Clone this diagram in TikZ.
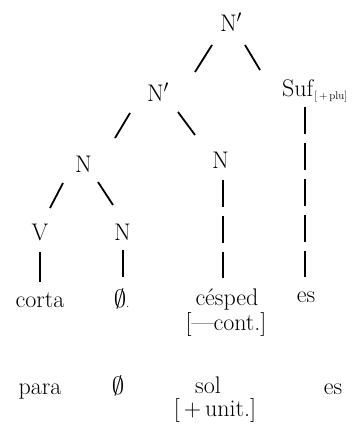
\documentclass[tikz,border=0pt]{standalone}
\begin{document}
\begin{tikzpicture}[x=1pt,y=-1pt,
  lbl/.style={anchor=base,inner sep=0pt,font=\fontsize{24}{28}\selectfont},
  branch/.style={line width=1.8pt},
  dashbranch/.style={line width=1.8pt,dash pattern=on 27pt off 9pt}]
\useasboundingbox (0,0) rectangle (360,441);

% tree labels
\node[lbl] (ntop) at (231,32) {N$'$};
\node[lbl] (nmid) at (158,102) {N$'$};
\node[lbl,anchor=base west] (suf) at (282,96)
  {Suf\kern1pt\raisebox{-3pt}{\fontsize{11}{12}\selectfont[\,+\,plu]}};
\node[lbl] (nl) at (83.5,172) {N};
\node[lbl] (nm) at (220.5,168) {N};
\node[lbl] (v) at (40,240) {V};
\node[lbl] (nz) at (122.5,240) {N};

% first word row
\node[lbl] (corta) at (40,307) {corta};
\node[lbl] (zero) at (120,307) {$\emptyset$\rlap{\fontsize{12}{14}\selectfont.}};
\node[lbl] (cesped) at (227,305) {césped};
\node[lbl] (cont) at (226,330) {[---cont.]};
\node[lbl] (es) at (306,302) {es};

% second word row
\node[lbl] (para) at (40,394) {para};
\node[lbl] (zerob) at (118,394) {$\emptyset$};
\node[lbl] (sol) at (208,393) {sol};
\node[lbl] (esb) at (333,394) {es};
\node[lbl] (unit) at (215,416) {[\,+\,unit.]};

% branches
\draw[branch] ([shift={(-19pt,-13pt)}]ntop.base) -- ([shift={(37pt,30pt)}]nmid.base);
\draw[branch] ([shift={(14pt,-13pt)}]ntop.base) -- ([shift={(-22pt,26pt)}]suf.base west);
\draw[branch] ([shift={(-28pt,-11pt)}]nmid.base) -- ([shift={(31.5pt,34pt)}]nl.base);
\draw[branch] ([shift={(20pt,-10pt)}]nmid.base) -- ([shift={(-25.5pt,33pt)}]nm.base);
\draw[branch] ([shift={(-20.5pt,-11pt)}]nl.base) -- ([shift={(10pt,32pt)}]v.base);
\draw[branch] ([shift={(14.5pt,-10pt)}]nl.base) -- ([shift={(-9.5pt,35pt)}]nz.base);
\draw[branch] ([shift={(0pt,-12pt)}]v.base) -- ([shift={(0pt,25pt)}]corta.base);
\draw[branch] ([shift={(0.5pt,-10pt)}]nz.base) -- ([shift={(3pt,30pt)}]zero.base);
\draw[dashbranch] ([shift={(2.5pt,-12pt)}]nm.base) -- ([shift={(-4pt,27pt)}]cesped.base);
\draw[dashbranch] ([shift={(23pt,-11pt)}]suf.base west) -- ([shift={(-1pt,25pt)}]es.base);
\end{tikzpicture}
\end{document}
